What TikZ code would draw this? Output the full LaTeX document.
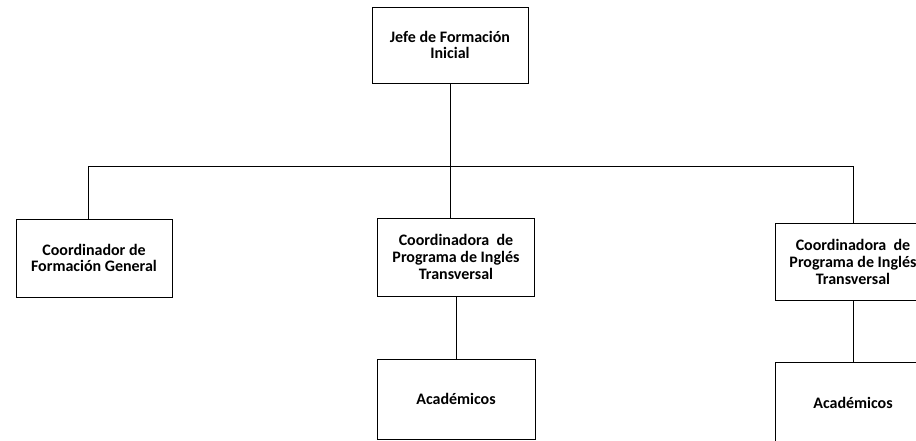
\documentclass[tikz,border=0pt]{standalone}
\usepackage{fontspec}
\setmainfont{Carlito}
\begin{document}
\begin{tikzpicture}[x=1pt,y=1pt,
  box/.style={draw=black,line width=1pt,fill=white,align=center,inner sep=0pt,
    font=\fontsize{16}{16.7}\selectfont\bfseries},
  conn/.style={draw=black,line width=0.8pt}]
\useasboundingbox (0,0) rectangle (916,-440);
\clip (0,0) rectangle (916,-440);
\coordinate (bM) at (450,-166);
\coordinate (bL) at (88,-166);
\coordinate (bR) at (853,-166);
\node[box,minimum width=156,minimum height=76] (jefe) at (450,-45) {Jefe de Formación\\Inicial};
\node[box,minimum width=156,minimum height=78] (cfg) at (94,-258) {Coordinador de\\Formación General};
\node[box,minimum width=157,minimum height=78] (cpm) at (456,-257) {Coordinadora~ de\\Programa de Inglés\\Transversal};
\node[box,minimum width=158,minimum height=80.5] (acm) at (456,-399.25) {Académicos};
\node[box,minimum width=156,minimum height=77] (cpr) at (853,-262) {Coordinadora~ de\\Programa de Inglés\\Transversal};
\node[box,minimum width=156,minimum height=82] (acr) at (853,-403) {Académicos};
\draw[conn] (jefe.south -| bM) -- (bM);
\draw[conn] (bL) -- (bR);
\draw[conn] (bL) -- (bL |- cfg.north);
\draw[conn] (bM) -- (bM |- cpm.north);
\draw[conn] (bR) -- (cpr.north);
\draw[conn] (cpm.south) -- (acm.north);
\draw[conn] (cpr.south) -- (acr.north);
\end{tikzpicture}
\end{document}
